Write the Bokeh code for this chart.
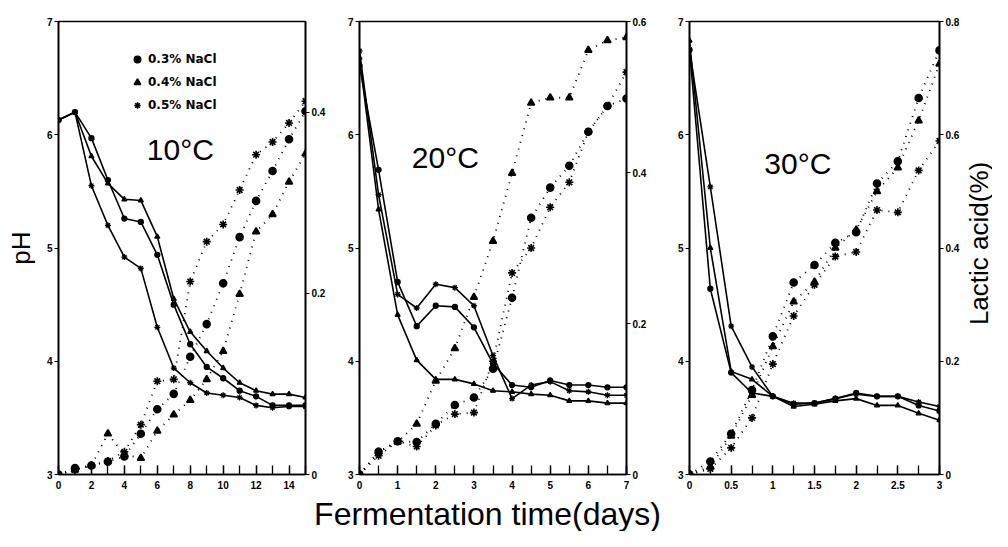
import math
from bokeh.plotting import figure
from bokeh.models import (Range1d, LinearAxis, FixedTicker, CustomJSTickFormatter,
                          Legend, LegendItem, Label)
from bokeh.layouts import row, column
from bokeh.embed import file_html
from bokeh.resources import INLINE

# ---------------- data ----------------
salts = ["0.3% NaCl", "0.4% NaCl", "0.5% NaCl"]
temps = ["10°C", "20°C", "30°C"]
y_title = "pH"
y2_title = "Lactic acid(%)"
x_title = "Fermentation time(days)"

days_10 = [0, 1, 2, 3, 4, 5, 6, 7, 8, 9, 10, 11, 12, 13, 14, 15]
ph_10_03 = [6.13, 6.20, 5.97, 5.60, 5.26, 5.23, 4.94, 4.50, 4.15, 3.95, 3.85, 3.74, 3.69, 3.61, 3.61, 3.61]
ph_10_04 = [6.13, 6.20, 5.81, 5.57, 5.43, 5.42, 5.10, 4.55, 4.26, 4.09, 3.94, 3.81, 3.74, 3.71, 3.71, 3.68]
ph_10_05 = [6.13, 6.20, 5.55, 5.20, 4.92, 4.82, 4.30, 3.94, 3.81, 3.72, 3.70, 3.68, 3.61, 3.59, 3.60, 3.60]
la_10_03 = [0.0, 0.007, 0.010, 0.014, 0.020, 0.045, 0.072, 0.089, 0.130, 0.166, 0.211, 0.262, 0.302, 0.335, 0.370, 0.401]
la_10_04 = [0.0, 0.005, 0.010, 0.045, 0.022, 0.018, 0.048, 0.066, 0.082, 0.105, 0.136, 0.199, 0.268, 0.287, 0.323, 0.354]
la_10_05 = [0.0, 0.005, 0.010, 0.015, 0.025, 0.055, 0.103, 0.105, 0.213, 0.257, 0.276, 0.314, 0.353, 0.367, 0.388, 0.412]

days_20 = [0, 0.5, 1, 1.5, 2, 2.5, 3, 3.5, 4, 4.5, 5, 5.5, 6, 6.5, 7]
ph_20_03 = [6.61, 5.69, 4.70, 4.31, 4.49, 4.48, 4.30, 3.98, 3.79, 3.77, 3.83, 3.79, 3.79, 3.77, 3.77]
ph_20_04 = [6.68, 5.34, 4.41, 4.01, 3.84, 3.84, 3.80, 3.74, 3.73, 3.71, 3.70, 3.65, 3.65, 3.63, 3.63]
ph_20_05 = [6.74, 5.47, 4.59, 4.47, 4.68, 4.65, 4.49, 4.05, 3.67, 3.79, 3.82, 3.74, 3.73, 3.70, 3.70]
la_20_03 = [0.0, 0.030, 0.044, 0.043, 0.067, 0.092, 0.102, 0.140, 0.234, 0.340, 0.380, 0.409, 0.454, 0.488, 0.498]
la_20_04 = [0.0, 0.030, 0.043, 0.067, 0.124, 0.167, 0.235, 0.309, 0.399, 0.492, 0.499, 0.499, 0.562, 0.575, 0.579]
la_20_05 = [0.0, 0.025, 0.044, 0.037, 0.065, 0.080, 0.082, 0.150, 0.267, 0.300, 0.354, 0.387, 0.454, 0.488, 0.533]

days_30 = [0, 0.25, 0.5, 0.75, 1, 1.25, 1.5, 1.75, 2, 2.25, 2.5, 2.75, 3]
ph_30_03 = [6.75, 4.64, 3.90, 3.72, 3.69, 3.62, 3.63, 3.67, 3.72, 3.69, 3.69, 3.61, 3.56]
ph_30_04 = [6.83, 5.00, 3.91, 3.84, 3.69, 3.60, 3.62, 3.65, 3.67, 3.61, 3.61, 3.54, 3.48]
ph_30_05 = [6.75, 5.54, 4.31, 3.95, 3.69, 3.63, 3.63, 3.67, 3.71, 3.69, 3.69, 3.64, 3.60]
la_30_03 = [0.0, 0.023, 0.072, 0.149, 0.244, 0.339, 0.370, 0.409, 0.428, 0.514, 0.553, 0.665, 0.749]
la_30_04 = [0.0, 0.014, 0.068, 0.140, 0.226, 0.305, 0.340, 0.400, 0.432, 0.500, 0.542, 0.625, 0.725]
la_30_05 = [0.0, 0.010, 0.047, 0.100, 0.195, 0.280, 0.335, 0.385, 0.393, 0.467, 0.463, 0.537, 0.589]

x_max = [15, 7, 3]
la_max = [0.5, 0.6, 0.8]
x_major = [[0, 2, 4, 6, 8, 10, 12, 14],
           [0, 1, 2, 3, 4, 5, 6, 7],
           [0, 0.5, 1, 1.5, 2, 2.5, 3]]
x_minor = [days_10, days_20, days_30]
ph_ticks = [3, 4, 5, 6, 7]
la_ticks = [[0, 0.2, 0.4], [0, 0.2, 0.4, 0.6], [0, 0.2, 0.4, 0.6, 0.8]]
temp_pos = [(7.4, 5.87), (2.25, 5.80), (1.30, 5.75)]

# ---------------- styling / layout ----------------
FONT = "Liberation Sans"
markers = ["circle", "triangle", "asterisk"]
fig_w = [330, 330, 304]
ROW_H = 496
TOP, BOTTOM = 21, 22
borders = [dict(min_border_left=58, min_border_right=25),
           dict(min_border_left=29, min_border_right=34),
           dict(min_border_left=29, min_border_right=25)]
SIDE_W = 28
BOTTOM_H = 35

fmt_code = "return String(Math.round(tick*1000)/1000);"

panels = [
    (days_10, [ph_10_03, ph_10_04, ph_10_05], [la_10_03, la_10_04, la_10_05]),
    (days_20, [ph_20_03, ph_20_04, ph_20_05], [la_20_03, la_20_04, la_20_05]),
    (days_30, [ph_30_03, ph_30_04, ph_30_05], [la_30_03, la_30_04, la_30_05]),
]


def style_axis(ax):
    ax.major_label_text_font = FONT
    ax.major_label_text_font_size = "10px"
    ax.major_label_text_font_style = "bold"
    ax.major_label_text_color = "black"
    ax.axis_line_width = 1.6
    ax.axis_line_color = "black"
    ax.major_tick_line_color = "black"
    ax.axis_label_text_font = FONT
    ax.axis_label_text_font_style = "normal"
    ax.axis_label_text_color = "black"


def blank_fig(width, height, xr, yr, **kw):
    f = figure(width=width, height=height, output_backend="svg", toolbar_location=None,
               x_range=xr, y_range=yr, x_axis_location=None, y_axis_location=None,
               min_border_left=0, min_border_right=0, **kw)
    f.outline_line_color = None
    f.xgrid.visible = False
    f.ygrid.visible = False
    f.background_fill_color = "white"
    f.border_fill_color = "white"
    return f


figs = []
legend_renderers = []
for i, (days, phs, las) in enumerate(panels):
    p = figure(width=fig_w[i], height=ROW_H, output_backend="svg", toolbar_location=None,
               x_range=Range1d(0, x_max[i]), y_range=Range1d(3, 7),
               min_border_top=TOP, min_border_bottom=BOTTOM, **borders[i])
    p.background_fill_color = "white"
    p.border_fill_color = "white"
    p.outline_line_color = "black"
    p.outline_line_width = 1.6
    p.xgrid.visible = False
    p.ygrid.visible = False
    p.extra_y_ranges = {"la": Range1d(0, la_max[i])}

    xa = p.xaxis[0]
    style_axis(xa)
    xa.ticker = FixedTicker(ticks=x_major[i], minor_ticks=x_minor[i])
    xa.formatter = CustomJSTickFormatter(code=fmt_code)
    xa.major_tick_in = 9
    xa.major_tick_out = 0
    xa.minor_tick_in = 9
    xa.minor_tick_out = 0
    xa.major_tick_line_width = 1.3
    xa.minor_tick_line_width = 1.3
    xa.minor_tick_line_color = "black"
    xa.major_label_standoff = 6

    ya = p.yaxis[0]
    style_axis(ya)
    ya.ticker = FixedTicker(ticks=ph_ticks)
    ya.formatter = CustomJSTickFormatter(code=fmt_code)
    ya.major_tick_in = 0
    ya.major_tick_out = 4
    ya.minor_tick_line_color = None
    ya.major_label_standoff = 2

    ra = LinearAxis(y_range_name="la", ticker=FixedTicker(ticks=la_ticks[i]),
                    formatter=CustomJSTickFormatter(code=fmt_code))
    style_axis(ra)
    ra.major_tick_in = 0
    ra.major_tick_out = 4
    ra.minor_tick_line_color = None
    ra.major_label_standoff = 2
    p.add_layout(ra, "right")

    if i == 0:
        ya.axis_label = y_title
        ya.axis_label_text_font_size = "26px"
        ya.axis_label_standoff = 8

    for k in range(3):
        p.line(days, phs[k], line_color="black", line_width=1.6)
        p.scatter(days, phs[k], marker=markers[k], size=5 if k != 2 else 6,
                  fill_color="black", line_color="black", line_width=1.3)
        p.line(days, las[k], y_range_name="la", line_color="black", line_width=1.8,
               line_dash="1 6")
        r = p.scatter(days, las[k], y_range_name="la", marker=markers[k],
                      size=7 if k != 2 else 8, fill_color="black", line_color="black",
                      line_width=1.6)
        if i == 0:
            legend_renderers.append(r)

    tx, ty = temp_pos[i]
    p.add_layout(Label(x=tx, y=ty, text=temps[i], text_align="center",
                       text_baseline="middle", text_font=FONT,
                       text_font_size="30px", text_color="black"))
    figs.append(p)

legend = Legend(items=[LegendItem(label=salts[k], renderers=[legend_renderers[k]])
                       for k in range(3)],
                location=(71, 360), orientation="vertical",
                border_line_color=None, background_fill_alpha=0,
                padding=0, margin=0, spacing=5, glyph_width=16, glyph_height=18,
                label_height=18, label_standoff=3,
                label_text_font="DejaVu Sans", label_text_font_size="12px",
                label_text_font_style="bold", label_text_color="black")
figs[0].add_layout(legend)

# right-hand title strip (same vertical frame as the panels, pH scale)
side = blank_fig(SIDE_W, ROW_H, Range1d(0, 1), Range1d(3, 7),
                 min_border_top=TOP, min_border_bottom=BOTTOM)
side.add_layout(Label(x=0.5, y=5.04, text=y2_title, angle=math.pi / 2,
                      angle_units="rad", text_align="center", text_baseline="middle",
                      text_font=FONT, text_font_size="26px", text_color="black"))

# bottom title strip
total_w = sum(fig_w) + SIDE_W
bottom = blank_fig(total_w, BOTTOM_H, Range1d(0, total_w), Range1d(0, BOTTOM_H),
                   min_border_top=0, min_border_bottom=0)
bottom.add_layout(Label(x=487, y=BOTTOM_H / 2, text=x_title, text_align="center",
                        text_baseline="middle", text_font=FONT, text_font_size="32px",
                        text_color="black"))

layout = column(row(*figs, side, spacing=0), bottom, spacing=0)
open("out.html", "w").write(file_html(layout, INLINE))
